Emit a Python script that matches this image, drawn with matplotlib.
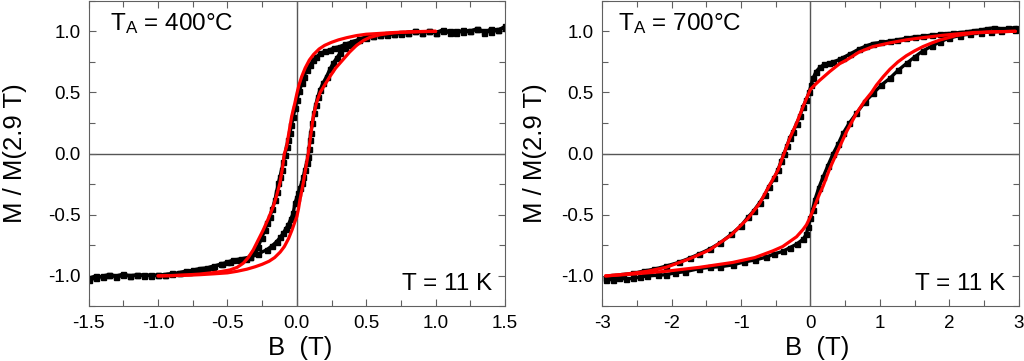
import numpy as np
import matplotlib
matplotlib.use('Agg')
import matplotlib.pyplot as plt
from matplotlib.ticker import MultipleLocator, FormatStrFormatter

#=== Left panel: TA = 400 C ===#
b400_down = [1.50, 1.45, 1.40, 1.35, 1.30, 1.25, 1.20, 1.15, 1.10, 1.05, 1.00, 0.95, 0.90, 0.85,
             0.80, 0.75, 0.70, 0.65, 0.60, 0.55, 0.50, 0.45, 0.40, 0.35, 0.31, 0.27, 0.24, 0.20,
             0.17, 0.14, 0.118, 0.095, 0.072, 0.05, 0.036, 0.018, 0.0, -0.013, -0.026, -0.04,
             -0.05, -0.062, -0.074, -0.086, -0.098, -0.11, -0.122, -0.134, -0.146, -0.158, -0.176,
             -0.194, -0.212, -0.23, -0.254, -0.278, -0.31, -0.338, -0.37, -0.42, -0.482, -0.54,
             -0.602, -0.66, -0.722, -0.78, -0.842, -0.90, -0.95, -1.00, -1.05, -1.10, -1.15, -1.20,
             -1.25, -1.30, -1.35, -1.40, -1.45, -1.50]
m400_down = [1.03, 1.01, 1.02, 0.99, 1.02, 1.00, 1.01, 0.99, 1.00, 1.01, 0.99, 1.00, 0.99, 1.00,
             0.99, 0.98, 0.98, 0.97, 0.97, 0.965, 0.957, 0.935, 0.915, 0.895, 0.875, 0.865, 0.85, 0.835,
             0.82, 0.79, 0.766, 0.725, 0.684, 0.63, 0.575, 0.51, 0.44, 0.37, 0.30, 0.23,
             0.167, 0.11, 0.057, -0.01, -0.07, -0.133, -0.19, -0.242, -0.31, -0.38, -0.45,
             -0.515, -0.57, -0.624, -0.69, -0.76, -0.81, -0.845, -0.86, -0.87, -0.883, -0.905,
             -0.924, -0.94, -0.95, -0.965, -0.978, -0.985, -0.99, -0.995, -0.99, -1.00, -0.99, -1.00,
             -0.995, -1.01, -0.99, -1.00, -1.02, -1.03]
b400_up = [-1.50, -1.45, -1.40, -1.35, -1.30, -1.25, -1.20, -1.15, -1.10, -1.05, -1.00, -0.95, -0.90,
           -0.85, -0.80, -0.75, -0.70, -0.65, -0.60, -0.55, -0.50, -0.458, -0.40, -0.338, -0.28,
           -0.218, -0.18, -0.146, -0.12, -0.098, -0.08, -0.062, -0.044, -0.026, -0.014, 0.0, 0.01,
           0.022, 0.034, 0.046, 0.058, 0.07, 0.082, 0.088, 0.094, 0.10, 0.112, 0.124, 0.136, 0.15,
           0.166, 0.19, 0.214, 0.238, 0.262, 0.286, 0.31, 0.345, 0.38, 0.415, 0.45, 0.50, 0.55, 0.60,
           0.65, 0.70, 0.75, 0.80, 0.85, 0.90, 0.95, 1.00, 1.05, 1.10, 1.15, 1.20, 1.25, 1.30, 1.35,
           1.40, 1.45, 1.50]
m400_up = [-1.02, -1.00, -1.01, -0.99, -1.00, -0.985, -1.00, -0.995, -0.99, -1.00, -0.995, -0.99, -0.98,
           -0.975, -0.96, -0.955, -0.94, -0.935, -0.92, -0.905, -0.89, -0.87, -0.86, -0.847, -0.82,
           -0.787, -0.755, -0.72, -0.685, -0.65, -0.615, -0.583, -0.535, -0.487, -0.405, -0.36, -0.324,
           -0.28, -0.242, -0.19, -0.133, -0.08, -0.025, 0.04, 0.11, 0.17, 0.25, 0.33, 0.40, 0.46,
           0.52, 0.58, 0.63, 0.69, 0.74, 0.78, 0.82, 0.86, 0.89, 0.91, 0.93, 0.945, 0.96, 0.97,
           0.975, 0.98, 0.985, 0.99, 1.00, 0.99, 1.00, 0.99, 1.00, 0.99, 1.00, 0.995, 1.00, 1.02, 1.00,
           0.995, 1.01, 1.04]

fit400_b_down = [1.00, 0.90, 0.80, 0.70, 0.60, 0.50, 0.43, 0.36, 0.30, 0.25, 0.20, 0.16, 0.12, 0.09,
                 0.06, 0.035, 0.015, 0.0, -0.015, -0.028, -0.038, -0.05, -0.062, -0.074, -0.09,
                 -0.104, -0.122, -0.145, -0.17, -0.205, -0.242, -0.28, -0.314, -0.35, -0.386, -0.43,
                 -0.482, -0.54, -0.602, -0.70, -0.80, -0.90, -1.00]
fit400_m_down = [1.00, 0.998, 0.995, 0.99, 0.983, 0.976, 0.965, 0.948, 0.93, 0.91, 0.885, 0.855, 0.81, 0.765,
                 0.70, 0.63, 0.56, 0.49, 0.41, 0.35, 0.30, 0.22, 0.14, 0.057, 0.0,
                 -0.12, -0.242, -0.34, -0.433, -0.53, -0.624, -0.71, -0.787, -0.85, -0.896, -0.93,
                 -0.951, -0.963, -0.973, -0.985, -0.992, -0.997, -1.00]
fit400_b_up = [-1.00, -0.90, -0.80, -0.70, -0.60, -0.50, -0.43, -0.36, -0.30, -0.25, -0.20, -0.16, -0.12,
               -0.09, -0.06, -0.035, -0.015, 0.0, 0.012, 0.022, 0.034, 0.046, 0.058, 0.07, 0.082,
               0.092, 0.10, 0.118, 0.14, 0.168, 0.20, 0.238, 0.28, 0.334, 0.38, 0.43, 0.48, 0.526, 0.60,
               0.70, 0.80, 0.90, 1.00]
fit400_m_up = [-1.00, -0.998, -0.995, -0.99, -0.983, -0.975, -0.962, -0.945, -0.925, -0.905, -0.88, -0.85, -0.805,
               -0.76, -0.695, -0.625, -0.56, -0.515, -0.45, -0.38, -0.31, -0.24, -0.16, -0.08, 0.0,
               0.08, 0.15, 0.30, 0.41, 0.50, 0.56, 0.63, 0.70, 0.77, 0.83, 0.885, 0.925, 0.95, 0.972,
               0.988, 0.994, 0.998, 1.00]

#=== Right panel: TA = 700 C ===#
b700_down = [2.95, 2.85, 2.75, 2.65, 2.54, 2.45, 2.35, 2.25, 2.15, 2.05, 1.95, 1.87, 1.75, 1.62, 1.50,
             1.38, 1.25, 1.14, 1.02, 0.90, 0.80, 0.70, 0.57, 0.47, 0.42, 0.33, 0.26, 0.20, 0.135, 0.08,
             0.04, 0.01, -0.02, -0.06, -0.106, -0.15, -0.20, -0.25, -0.30, -0.34, -0.38, -0.42, -0.466,
             -0.52, -0.60, -0.66, -0.73, -0.82, -0.90, -1.00, -1.14, -1.30, -1.45, -1.60, -1.74, -1.90,
             -2.08, -2.25, -2.40, -2.56, -2.70, -2.85, -2.95]
m700_down = [1.03, 1.025, 1.02, 1.03, 1.02, 1.01, 1.005, 0.995, 0.99, 0.985, 0.98, 0.976, 0.97, 0.96, 0.955,
             0.943, 0.93, 0.92, 0.91, 0.9, 0.88, 0.855, 0.815, 0.785, 0.77, 0.75, 0.74, 0.73, 0.705, 0.67,
             0.62, 0.56, 0.50, 0.44, 0.385, 0.31, 0.245, 0.18, 0.125, 0.06, 0.0, -0.06, -0.13,
             -0.20, -0.27, -0.34, -0.40, -0.47, -0.52, -0.59, -0.66, -0.73, -0.78, -0.82, -0.855, -0.89,
             -0.92, -0.945, -0.96, -0.98, -0.99, -1.00, -1.02]
b700_up = [-2.95, -2.85, -2.75, -2.65, -2.56, -2.45, -2.35, -2.20, -2.08, -1.95, -1.80, -1.60, -1.45,
           -1.30, -1.12, -0.95, -0.80, -0.64, -0.52, -0.40, -0.30, -0.20, -0.106, -0.06, -0.034, 0.0,
           0.03, 0.0625, 0.12, 0.183, 0.25, 0.327, 0.40, 0.47, 0.56, 0.663, 0.78, 0.904, 1.02, 1.144,
           1.26, 1.385, 1.50, 1.62, 1.75, 1.87, 2.00, 2.15, 2.30, 2.45, 2.60, 2.75, 2.95]
m700_up = [-1.03, -1.03, -1.02, -1.025, -1.02, -1.01, -1.00, -0.995, -0.99, -0.975, -0.965, -0.94, -0.93,
           -0.925, -0.91, -0.885, -0.87, -0.847, -0.82, -0.80, -0.77, -0.74, -0.70, -0.66, -0.60, -0.53,
           -0.46, -0.38, -0.28, -0.19, -0.10, 0.0, 0.08, 0.166, 0.25, 0.33, 0.42, 0.493, 0.56, 0.616,
           0.68, 0.738, 0.79, 0.84, 0.88, 0.915, 0.945, 0.965, 0.98, 0.99, 0.995, 1.00, 1.01]

fit700_b_down = [2.95, 2.60, 2.35, 2.10, 1.87, 1.62, 1.38, 1.14, 0.90, 0.70, 0.52, 0.42, 0.28, 0.135,
                 0.06, 0.0, -0.05, -0.106, -0.20, -0.298, -0.38, -0.466, -0.60, -0.73, -0.90, -1.14,
                 -1.45, -1.74, -2.08, -2.35, -2.56, -2.75, -2.95]
fit700_m_down = [1.00, 0.995, 0.99, 0.978, 0.965, 0.948, 0.93, 0.905, 0.875, 0.83, 0.765, 0.735, 0.672, 0.60,
                 0.56, 0.525, 0.46, 0.384, 0.248, 0.125, 0.0, -0.134, -0.27, -0.406, -0.53, -0.665,
                 -0.787, -0.86, -0.93, -0.962, -0.978, -0.99, -1.00]
fit700_b_up = [-2.95, -2.56, -2.08, -1.60, -1.12, -0.80, -0.54, -0.40, -0.20, -0.106, -0.058, 0.0, 0.06,
               0.135, 0.183, 0.28, 0.375, 0.52, 0.663, 0.78, 0.88, 0.95, 1.05, 1.145, 1.26, 1.38, 1.50,
               1.62, 1.75, 1.87, 2.10, 2.35, 2.60, 2.95]
fit700_m_up = [-1.00, -0.985, -0.962, -0.93, -0.89, -0.85, -0.795, -0.76, -0.68, -0.62, -0.583, -0.515, -0.43,
               -0.324, -0.265, -0.12, 0.0, 0.18, 0.33, 0.43, 0.50, 0.56, 0.63, 0.69, 0.75, 0.80, 0.84,
               0.875, 0.905, 0.93, 0.965, 0.985, 0.995, 1.00]

#=== Style ===#
plt.rcParams['font.family'] = ['Liberation Sans', 'DejaVu Sans']
plt.rcParams['axes.unicode_minus'] = False
plt.rcParams['mathtext.default'] = 'regular'

fig = plt.figure(figsize=(10.24, 3.61), dpi=100)
ax1 = fig.add_axes([0.0866, 0.151, 0.4066, 0.847])
ax2 = fig.add_axes([0.588, 0.151, 0.4069, 0.847])

frame_col = '#606060'


def draw_panel(ax, b_dn, m_dn, b_up, m_up, fb_dn, fm_dn, fb_up, fm_up):
    ax.axhline(0, color='#555555', lw=1.0, zorder=1)
    ax.axvline(0, color='#555555', lw=1.0, zorder=1)
    for b, m in [(b_dn, m_dn), (b_up, m_up)]:
        ax.plot(b, m, color='black', lw=2.4, marker='s', ms=3.6, mec='black', zorder=2)
    for b, m in [(fb_dn, fm_dn), (fb_up, fm_up)]:
        ax.plot(b, m, color='#ff0000', lw=2.3, zorder=3, solid_capstyle='round', solid_joinstyle='round')
    ax.set_ylim(-1.25, 1.25)
    ax.yaxis.set_major_locator(MultipleLocator(0.5))
    ax.yaxis.set_minor_locator(MultipleLocator(0.25))
    ax.yaxis.set_major_formatter(FormatStrFormatter('%.1f'))
    ax.tick_params(which='both', direction='in', top=True, right=True, color=frame_col,
                   labelsize=13.5, width=0.8)
    ax.tick_params(which='major', length=5, pad=6)
    ax.tick_params(which='minor', length=4)
    for s in ax.spines.values():
        s.set_color(frame_col)
        s.set_linewidth(0.8)
    ax.set_xlabel('B  (T)', fontsize=18.5)
    ax.set_ylabel('M / M(2.9 T)', fontsize=18.5)


draw_panel(ax1, b400_down, m400_down, b400_up, m400_up,
           fit400_b_down, fit400_m_down, fit400_b_up, fit400_m_up)
ax1.set_xlim(-1.5, 1.5)
ax1.xaxis.set_major_locator(MultipleLocator(0.5))
ax1.xaxis.set_minor_locator(MultipleLocator(0.25))
ax1.xaxis.set_major_formatter(FormatStrFormatter('%.1f'))
ax1.yaxis.set_label_coords(-0.148, 0.5)
ax1.xaxis.set_label_coords(0.507, -0.095)
ax1.text(0.051, 0.905, 'T$_A$ = 400°C', transform=ax1.transAxes, fontsize=17.5, va='baseline')
ax1.text(0.970, 0.054, 'T = 11 K', transform=ax1.transAxes, fontsize=17.5, ha='right', va='baseline')

draw_panel(ax2, b700_down, m700_down, b700_up, m700_up,
           fit700_b_down, fit700_m_down, fit700_b_up, fit700_m_up)
ax2.set_xlim(-3, 3)
ax2.xaxis.set_major_locator(MultipleLocator(1))
ax2.xaxis.set_minor_locator(MultipleLocator(0.5))
ax2.yaxis.set_label_coords(-0.132, 0.5)
ax2.xaxis.set_label_coords(0.516, -0.095)
ax2.text(0.038, 0.905, 'T$_A$ = 700°C', transform=ax2.transAxes, fontsize=17.5, va='baseline')
ax2.text(0.968, 0.054, 'T = 11 K', transform=ax2.transAxes, fontsize=17.5, ha='right', va='baseline')

fig.savefig('out.png', dpi=100)
